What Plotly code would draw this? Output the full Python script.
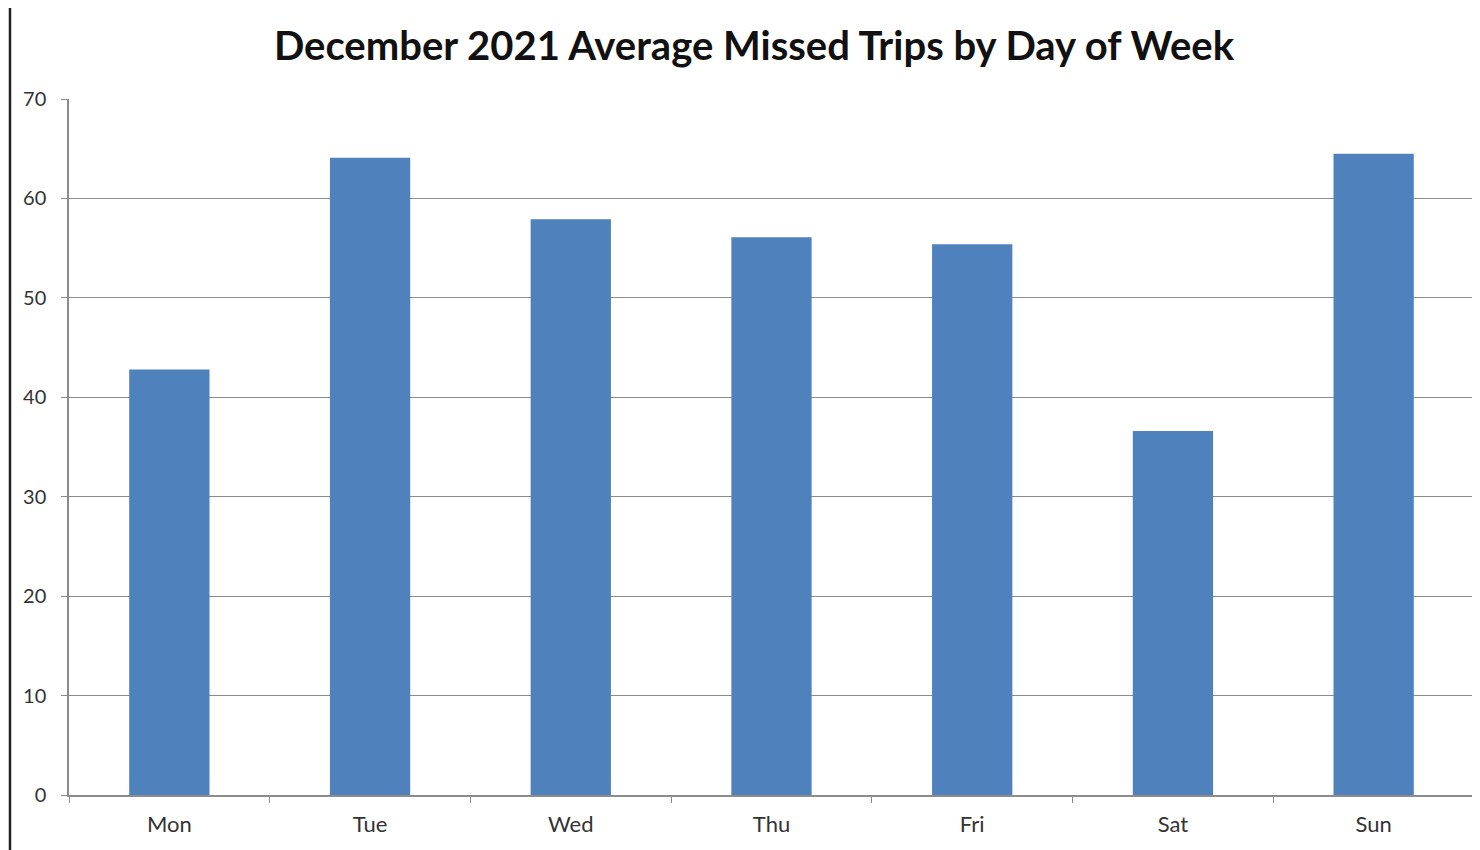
import plotly.graph_objects as go

days = ["Mon", "Tue", "Wed", "Thu", "Fri", "Sat", "Sun"]
missed_trips = [42.8, 64.1, 57.9, 56.1, 55.4, 36.6, 64.5]
y_ticks = [0, 10, 20, 30, 40, 50, 60, 70]

fig = go.Figure(go.Bar(x=days, y=missed_trips, marker=dict(color="#4F81BD", line=dict(width=0))))

fig.update_layout(
    width=1472, height=842,
    margin=dict(l=61, r=6, t=91, b=55),
    paper_bgcolor="white", plot_bgcolor="white",
    bargap=0.6,
    showlegend=False,
    title=dict(text="<b>December 2021 Average Missed Trips by Day of Week</b>",
               x=0.5068, xanchor="center", y=0.955, yanchor="middle",
               font=dict(family="Lato", size=40, color="#111111")),
    font=dict(family="Lato", size=22, color="#333333"),
)
fig.update_xaxes(showline=True, linecolor="#8c8c8c", linewidth=1.5,
                 ticks="outside", tickson="boundaries", ticklen=6, tickcolor="#8c8c8c",
                 showgrid=False, tickfont=dict(size=22), ticklabelstandoff=9)
fig.update_yaxes(range=[0, 70], tickvals=y_ticks, showline=True, linecolor="#8c8c8c", linewidth=1.5,
                 ticks="outside", ticklen=6, tickcolor="#8c8c8c", ticklabelstandoff=11,
                 gridcolor="#8c8c8c", gridwidth=1.2, zeroline=False, tickfont=dict(size=20))
fig.add_shape(type="line", xref="paper", yref="paper", x0=-0.042, x1=-0.042, y0=-0.08, y1=1.15,
              line=dict(color="#222222", width=2.5))
fig.write_html("out.html")
